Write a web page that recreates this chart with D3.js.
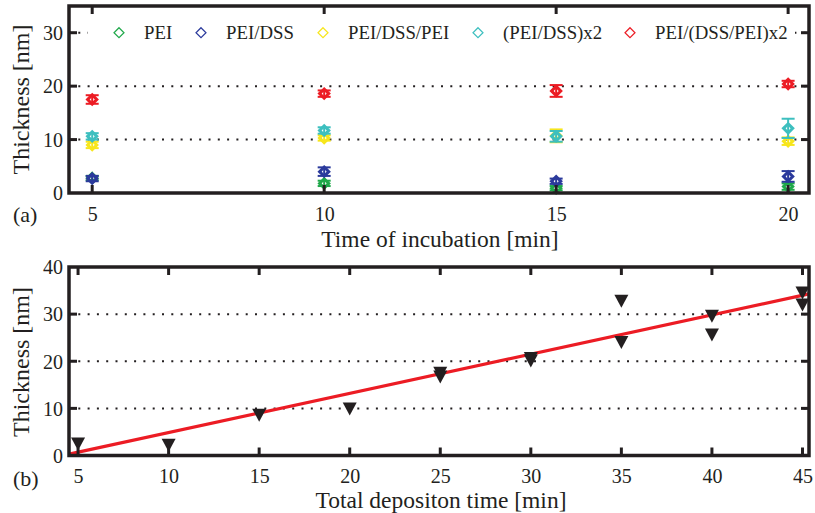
<!DOCTYPE html>
<html>
<head>
<meta charset="utf-8">
<script src="https://cdn.jsdelivr.net/npm/d3@7"></script>
<style>
  html, body { margin: 0; padding: 0; background: #fff; }
  svg { display: block; }
  text { font-family: "Liberation Serif", "Times New Roman", serif; fill: #231f20; }
</style>
</head>
<body>
<svg id="chart" width="815" height="513"></svg>
<script>
// (a) thickness vs. incubation time for each film
const incubationTimes = [5, 10, 15, 20];
const seriesNames = ["PEI", "PEI/DSS", "PEI/DSS/PEI", "(PEI/DSS)x2", "PEI/(DSS/PEI)x2"];
const seriesColors = ["#1fa84a", "#2b3a9c", "#f7e61c", "#3dbfbf", "#ec1c24"];
const peiValues = [2.8, 1.8, 0.9, 1.2];
const peiErrors = [0.4, 0.5, 0.4, 0.6];
const peiDssValues = [2.7, 4.0, 2.2, 3.1];
const peiDssErrors = [0.5, 0.8, 0.5, 1.0];
const peiDssPeiValues = [9.0, 10.3, 10.7, 9.7];
const peiDssPeiErrors = [0.6, 0.5, 1.2, 0.7];
const peiDssX2Values = [10.6, 11.7, 10.6, 12.1];
const peiDssX2Errors = [0.6, 0.6, 1.0, 1.8];
const peiDssPeiX2Values = [17.5, 18.6, 19.1, 20.4];
const peiDssPeiX2Errors = [0.8, 0.6, 1.1, 0.6];
const topXTicks = [5, 10, 15, 20];
const topYTicks = [0, 10, 20, 30];

// (b) thickness vs. total deposition time
const depositionTimes = [5, 10, 15, 20, 25, 25, 30, 30, 35, 35, 40, 40, 45, 45];
const depositionThickness = [2.5, 2.2, 8.6, 9.9, 17.5, 16.7, 20.6, 20.1, 32.8, 24.0, 29.6, 25.6, 34.5, 32.0];
const fitTimes = [4.5, 45.36];
const fitThickness = [0.3, 34.3];
const bottomXTicks = [5, 10, 15, 20, 25, 30, 35, 40, 45];
const bottomYTicks = [0, 10, 20, 30, 40];

const ink = "#231f20";
const svg = d3.select("#chart");

const seriesValues = [peiValues, peiDssValues, peiDssPeiValues, peiDssX2Values, peiDssPeiX2Values];
const seriesErrors = [peiErrors, peiDssErrors, peiDssPeiErrors, peiDssX2Errors, peiDssPeiX2Errors];

function drawGrid(g, x, y, gridTicks) {
  const [x0, x1] = x.range();
  g.append("g").selectAll("line").data(gridTicks).join("line")
    .attr("x1", x0).attr("x2", x1)
    .attr("y1", d => y(d)).attr("y2", d => y(d))
    .attr("stroke", ink).attr("stroke-width", 2)
    .attr("stroke-dasharray", "2,7.3");
}

function drawAxes(g, x, y, xTicks, yTicks, tickSkipY, labelY) {
  const [x0, x1] = x.range();
  const [y0, y1] = y.range();
  const tl = 8;
  const axB = d3.axisBottom(x).tickValues(xTicks).tickSize(0).tickPadding(0).tickFormat(d3.format("d"));
  const axL = d3.axisLeft(y).tickValues(yTicks).tickSize(0).tickPadding(0).tickFormat(d3.format("d"));
  const gb = g.append("g").attr("transform", `translate(0,${y0})`).call(axB);
  gb.select(".domain").remove();
  gb.selectAll("text").attr("y", labelY).attr("dy", 0).attr("font-size", 20)
    .style("font-family", "Liberation Serif").attr("fill", ink);
  const gl = g.append("g").attr("transform", `translate(${x0},0)`).call(axL);
  gl.select(".domain").remove();
  gl.selectAll("text").attr("x", -6).attr("dy", "0.34em").attr("font-size", 20)
    .style("font-family", "Liberation Serif").attr("fill", ink);

  // inward ticks on all four sides
  const inner = yTicks.filter(d => !tickSkipY.includes(d));
  const t = g.append("g").attr("stroke", ink).attr("stroke-width", 3);
  xTicks.forEach(d => {
    t.append("line").attr("x1", x(d)).attr("x2", x(d)).attr("y1", y0).attr("y2", y0 - tl);
    t.append("line").attr("x1", x(d)).attr("x2", x(d)).attr("y1", y1).attr("y2", y1 + tl);
  });
  inner.forEach(d => {
    t.append("line").attr("x1", x0).attr("x2", x0 + tl).attr("y1", y(d)).attr("y2", y(d));
    t.append("line").attr("x1", x1).attr("x2", x1 - tl).attr("y1", y(d)).attr("y2", y(d));
  });
  g.append("rect")
    .attr("x", x0).attr("y", y1).attr("width", x1 - x0).attr("height", y0 - y1)
    .attr("fill", "none").attr("stroke", ink).attr("stroke-width", 3.5);
}

// ---------- panel (a) ----------
const xA = d3.scaleLinear().domain([4.5, 20.45]).range([69, 809]);
const yA = d3.scaleLinear().domain([0, 35]).range([193, 6]);
const gA = svg.append("g");
drawGrid(gA, xA, yA, [10, 20, 30]);

// legend backdrop hides the grid line behind it
gA.append("rect").attr("x", 88).attr("y", 19).attr("width", 707).attr("height", 28).attr("fill", "#fff");

const diamond = s => `M0,${-s}L${s},0L0,${s}L${-s},0Z`;
seriesValues.forEach((vals, si) => {
  const col = seriesColors[si];
  const sg = gA.append("g").attr("stroke", col).attr("fill", "none");
  vals.forEach((v, i) => {
    const cx = xA(incubationTimes[i]);
    const e = seriesErrors[si][i];
    const yt = yA(v + e), yb = yA(v - e);
    sg.append("line").attr("x1", cx).attr("x2", cx).attr("y1", yt).attr("y2", yb).attr("stroke-width", 2);
    sg.append("line").attr("x1", cx - 6.5).attr("x2", cx + 6.5).attr("y1", yt).attr("y2", yt).attr("stroke-width", 2);
    sg.append("line").attr("x1", cx - 6.5).attr("x2", cx + 6.5).attr("y1", yb).attr("y2", yb).attr("stroke-width", 2);
    sg.append("path").attr("d", diamond(4.6)).attr("transform", `translate(${cx},${yA(v)})`)
      .attr("stroke-width", 3).attr("stroke-linejoin", "miter");
  });
});

drawAxes(gA, xA, yA, topXTicks, topYTicks, [0], 28);

// legend
const legendMarkX = [119, 201, 323, 478, 630];
const legend = gA.append("g");
seriesNames.forEach((name, i) => {
  legend.append("path").attr("d", diamond(5)).attr("transform", `translate(${legendMarkX[i]},${yA(30)})`)
    .attr("fill", "none").attr("stroke", seriesColors[i]).attr("stroke-width", 1.2);
  legend.append("text").attr("x", legendMarkX[i] + 25).attr("y", yA(30)).attr("dy", "0.34em")
    .attr("font-size", 18.8).text(name);
});

gA.append("text").attr("x", 440).attr("y", 246.5).attr("text-anchor", "middle").attr("font-size", 23.5)
  .text("Time of incubation [min]");
gA.append("text").attr("transform", `translate(29,99.5) rotate(-90)`).attr("text-anchor", "middle")
  .attr("font-size", 24).text("Thickness [nm]");
gA.append("text").attr("x", 13).attr("y", 222).attr("font-size", 22).text("(a)");

// ---------- panel (b) ----------
const xB = d3.scaleLinear().domain([4.5, 45.36]).range([69, 809]);
const yB = d3.scaleLinear().domain([0, 40]).range([455.5, 267]);
const gB = svg.append("g");
drawGrid(gB, xB, yB, [10, 20, 30]);

const fitLine = d3.line().x(d => xB(d[0])).y(d => yB(d[1]));
gB.append("path").datum(fitTimes.map((t, i) => [t, fitThickness[i]]))
  .attr("d", fitLine).attr("fill", "none").attr("stroke", "#ec1c24").attr("stroke-width", 3.2);

const tri = "M-7,-6.3L7,-6.3L0,6.7Z";
gB.append("g").selectAll("path").data(depositionTimes).join("path")
  .attr("d", tri)
  .attr("transform", (d, i) => `translate(${xB(d)},${yB(depositionThickness[i])})`)
  .attr("fill", ink);

drawAxes(gB, xB, yB, bottomXTicks, bottomYTicks, [0, 40], 27);

gB.append("text").attr("x", 441).attr("y", 508).attr("text-anchor", "middle").attr("font-size", 23.5)
  .text("Total depositon time [min]");
gB.append("text").attr("transform", `translate(29,362) rotate(-90)`).attr("text-anchor", "middle")
  .attr("font-size", 24).text("Thickness [nm]");
gB.append("text").attr("x", 13).attr("y", 486).attr("font-size", 22).text("(b)");
</script>
</body>
</html>
